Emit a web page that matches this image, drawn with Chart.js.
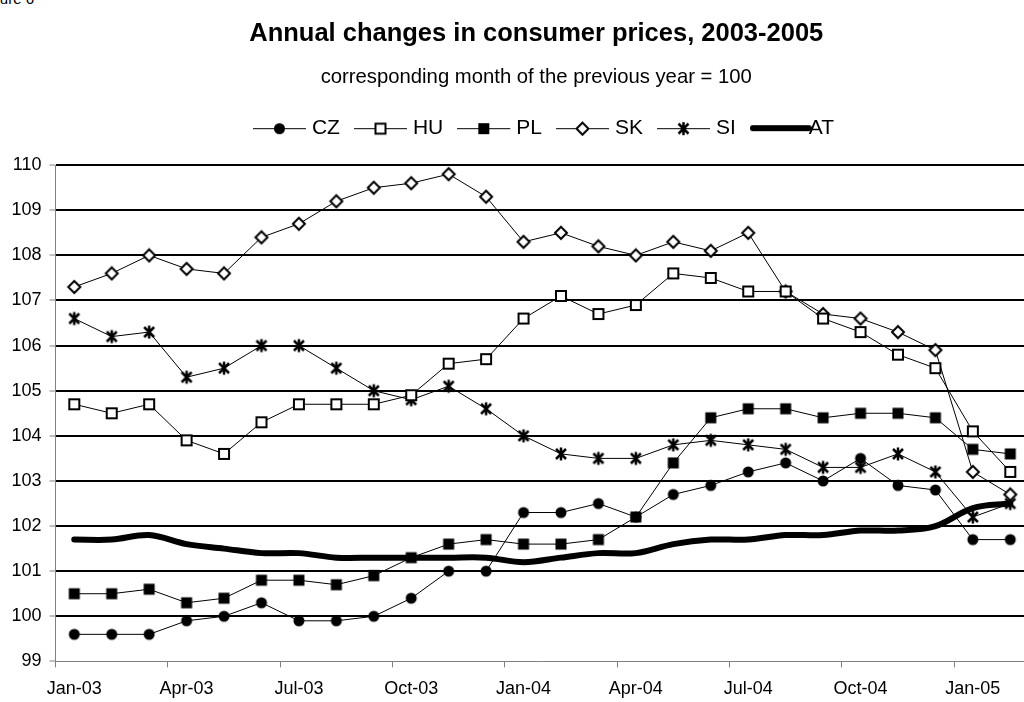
<!DOCTYPE html>
<html lang="en">
<head>
<meta charset="UTF-8">
<title>Annual changes in consumer prices, 2003-2005</title>
<script src="https://cdn.jsdelivr.net/npm/chart.js"></script>
<style>
  html, body { margin: 0; padding: 0; background: #fff; overflow: hidden; }
  #wrap { position: relative; width: 1024px; height: 702px; overflow: hidden; }
  #fig { position: absolute; left: -21px; top: -10px; font: 15px Arial, 'Liberation Sans', sans-serif; color: #000; }
  canvas { position: absolute; left: 0; top: 0; }
</style>
</head>
<body>
<div id="wrap">
  <div id="fig">Figure 6</div>
  <canvas id="grafico" width="1036" height="702"></canvas>
</div>
<script>
  // months Jan-03 .. Feb-05
  const months = ['Jan-03','Feb-03','Mar-03','Apr-03','May-03','Jun-03','Jul-03','Aug-03','Sep-03','Oct-03','Nov-03','Dec-03',
                  'Jan-04','Feb-04','Mar-04','Apr-04','May-04','Jun-04','Jul-04','Aug-04','Sep-04','Oct-04','Nov-04','Dec-04',
                  'Jan-05','Feb-05'];

  const cz = [99.6,99.6,99.6,99.9,100.0,100.3,99.9,99.9,100.0,100.4,101.0,101.0,
              102.3,102.3,102.5,102.2,102.7,102.9,103.2,103.4,103.0,103.5,102.9,102.8,
              101.7,101.7];
  const hu = [104.7,104.5,104.7,103.9,103.6,104.3,104.7,104.7,104.7,104.9,105.6,105.7,
              106.6,107.1,106.7,106.9,107.6,107.5,107.2,107.2,106.6,106.3,105.8,105.5,
              104.1,103.2];
  const pl = [100.5,100.5,100.6,100.3,100.4,100.8,100.8,100.7,100.9,101.3,101.6,101.7,
              101.6,101.6,101.7,102.2,103.4,104.4,104.6,104.6,104.4,104.5,104.5,104.4,
              103.7,103.6];
  const sk = [107.3,107.6,108.0,107.7,107.6,108.4,108.7,109.2,109.5,109.6,109.8,109.3,
              108.3,108.5,108.2,108.0,108.3,108.1,108.5,107.2,106.7,106.6,106.3,105.9,
              103.2,102.7];
  const si = [106.6,106.2,106.3,105.3,105.5,106.0,106.0,105.5,105.0,104.8,105.1,104.6,
              104.0,103.6,103.5,103.5,103.8,103.9,103.8,103.7,103.3,103.3,103.6,103.2,
              102.2,102.5];
  const at = [101.7,101.7,101.8,101.6,101.5,101.4,101.4,101.3,101.3,101.3,101.3,101.3,
              101.2,101.3,101.4,101.4,101.6,101.7,101.7,101.8,101.8,101.9,101.9,102.0,
              102.4,102.5];

  const yMin = 99, yMax = 110;

  const FONT = "Arial, 'Liberation Sans', sans-serif";
  const TITLE = 'Annual changes in consumer prices, 2003-2005';
  const SUBTITLE = 'corresponding month of the previous year = 100';

  // dibuja un marcador tipo Excel
  function drawMarker(c, kind, x, y) {
    c.strokeStyle = '#000';
    c.fillStyle = '#000';
    c.lineWidth = 2;
    if (kind === 'circle') {
      c.beginPath(); c.arc(x, y, 5.5, 0, Math.PI * 2); c.fill();
    } else if (kind === 'square') {
      c.fillRect(x - 5.5, y - 5.5, 11, 11);
    } else if (kind === 'openSquare') {
      c.fillStyle = '#fff';
      c.fillRect(x - 5, y - 5, 10, 10);
      c.strokeRect(x - 5, y - 5, 10, 10);
    } else if (kind === 'diamond') {
      c.fillStyle = '#fff';
      c.beginPath();
      c.moveTo(x, y - 6); c.lineTo(x + 6, y); c.lineTo(x, y + 6); c.lineTo(x - 6, y); c.closePath();
      c.fill(); c.stroke();
    } else if (kind === 'star') {
      c.lineWidth = 2.5;
      c.beginPath();
      c.moveTo(x - 5, y - 5); c.lineTo(x + 5, y + 5);
      c.moveTo(x + 5, y - 5); c.lineTo(x - 5, y + 5);
      c.moveTo(x, y - 6.5); c.lineTo(x, y + 6.5);
      c.stroke();
    }
  }

  function markerCanvas(kind) {
    const cv = document.createElement('canvas');
    cv.width = 16; cv.height = 16;
    drawMarker(cv.getContext('2d'), kind, 8, 8);
    return cv;
  }

  function legendCanvas(kind) {
    const cv = document.createElement('canvas');
    cv.width = 62; cv.height = 16;
    const c = cv.getContext('2d');
    if (kind === 'thick') {
      c.strokeStyle = '#000'; c.lineWidth = 6; c.lineCap = 'round';
      c.beginPath(); c.moveTo(3, 8); c.lineTo(59, 8); c.stroke();
    } else {
      c.strokeStyle = '#000'; c.lineWidth = 1;
      c.beginPath(); c.moveTo(0, 8.5); c.lineTo(53, 8.5); c.stroke();
      drawMarker(c, kind, 26.5, 8.5);
    }
    return cv;
  }

  const kinds = ['circle', 'openSquare', 'square', 'diamond', 'star', 'thick'];
  const legendIcons = kinds.map(legendCanvas);

  function serie(label, data, kind) {
    return {
      label: label,
      data: data,
      borderColor: '#000',
      backgroundColor: '#000',
      borderWidth: 1,
      tension: 0,
      pointStyle: markerCanvas(kind),
      pointRadius: 6,
      pointHoverRadius: 6,
      order: 1
    };
  }

  // mueve una caja del layout en x y le añade alto por debajo
  function ajustarCaja(box, dx, extraAlto) {
    if (!box || box._ajustada) return;
    box._ajustada = true;
    const fitOrig = box.fit;
    const drawOrig = box.draw;
    box.fit = function () {
      fitOrig.apply(this, arguments);
      this.height += extraAlto;
    };
    box.draw = function () {
      const c = this.ctx;
      c.save();
      c.translate(dx, 0);
      drawOrig.apply(this, arguments);
      c.restore();
    };
  }

  const ajusteCajas = {
    id: 'ajusteCajas',
    beforeUpdate(chart) {
      ajustarCaja(chart.legend, 8, 16.5);
      (chart.boxes || []).forEach(b => {
        const t = b.options && b.options.text;
        if (t === TITLE || t === SUBTITLE) ajustarCaja(b, -6, 0);
      });
    }
  };

  const ctx = document.getElementById('grafico').getContext('2d');

  const grafico = new Chart(ctx, {
    type: 'line',
    data: {
      labels: months,
      datasets: [
        serie('CZ', cz, 'circle'),
        serie('HU', hu, 'openSquare'),
        serie('PL', pl, 'square'),
        serie('SK', sk, 'diamond'),
        serie('SI', si, 'star'),
        {
          label: 'AT',
          data: at,
          borderColor: '#000',
          backgroundColor: '#000',
          borderWidth: 6,
          borderCapStyle: 'round',
          tension: 0.35,
          pointRadius: 0,
          pointHoverRadius: 0,
          order: 0
        }
      ]
    },
    plugins: [ajusteCajas],
    options: {
      responsive: false,
      animation: false,
      devicePixelRatio: 1,
      layout: { padding: { left: 3.5, right: 1, top: 0, bottom: -9 } },
      scales: {
        x: {
          offset: true,
          grid: {
            offset: true,
            drawOnChartArea: false,
            drawTicks: true,
            tickLength: 6,
            tickWidth: 1,
            tickColor: c => (c.index % 3 === 0 ? '#808080' : 'rgba(0,0,0,0)')
          },
          border: { color: '#808080', width: 1 },
          ticks: {
            autoSkip: false,
            maxRotation: 0,
            minRotation: 0,
            padding: 11,
            color: '#000',
            font: { family: FONT, size: 18 },
            callback: (v, i) => (i % 3 === 0 ? months[i] : '')
          }
        },
        y: {
          min: yMin,
          max: yMax,
          grid: {
            color: c => (c.tick && c.tick.value === yMin ? 'rgba(0,0,0,0)' : '#000'),
            lineWidth: 2,
            tickLength: 6,
            tickWidth: 1,
            tickColor: '#808080'
          },
          border: { color: '#808080', width: 1 },
          ticks: {
            stepSize: 1,
            padding: 8,
            color: '#000',
            font: { family: FONT, size: 18 }
          }
        }
      },
      plugins: {
        title: {
          display: true,
          fullSize: false,
          text: TITLE,
          color: '#000',
          font: { family: FONT, size: 25.5, weight: 'bold' },
          padding: { top: 18.7, bottom: 8 }
        },
        subtitle: {
          display: true,
          fullSize: false,
          text: SUBTITLE,
          color: '#000',
          font: { family: FONT, size: 20.3 },
          padding: { top: 7.5, bottom: 1 }
        },
        legend: {
          position: 'top',
          fullSize: false,
          labels: {
            usePointStyle: true,
            pointStyleWidth: 35,
            padding: 27.5,
            color: '#000',
            font: { family: FONT, size: 21 },
            generateLabels: chart => chart.data.datasets.map((ds, i) => ({
              text: ds.label,
              pointStyle: legendIcons[i],
              fillStyle: '#000',
              strokeStyle: '#000',
              lineWidth: 0,
              hidden: false,
              datasetIndex: i,
              fontColor: '#000'
            }))
          }
        },
        tooltip: { enabled: false }
      }
    }
  });
</script>
</body>
</html>
